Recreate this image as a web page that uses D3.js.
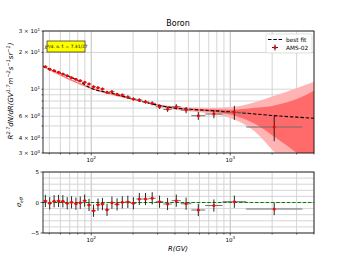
<!DOCTYPE html>
<html>
<head>
<meta charset="utf-8">
<script src="https://cdn.jsdelivr.net/npm/d3@7"></script>
<style>
  body { margin: 0; background: #fff; }
  text { font-family: "DejaVu Sans", sans-serif; }
</style>
</head>
<body>
<svg width="349" height="262"></svg>
<script>
// AMS-02 boron points (rigidity bins, R^2.7 flux, errors)
const binLo = [45.1, 48.5, 52.2, 56.1, 60.3, 64.8, 69.7, 74.9, 80.5, 86.5, 93, 100, 108, 116, 125, 135, 147, 160, 175, 192, 211, 233, 259, 291, 330, 379, 441, 525, 660, 880, 1300]
const binHi = [48.5, 52.2, 56.1, 60.3, 64.8, 69.7, 74.9, 80.5, 86.5, 93, 100, 108, 116, 125, 135, 147, 160, 175, 192, 211, 233, 259, 291, 330, 379, 441, 525, 660, 880, 1300, 3300]
const rig = [46.8, 50.3, 54.1, 58.2, 62.5, 67.2, 72.2, 77.6, 83.4, 89.7, 96.4, 103.9, 111.9, 120.4, 129.9, 140.9, 153.4, 167.3, 183.3, 201, 221.7, 245.6, 274.5, 310, 354, 409, 481, 589, 762, 1070, 2070]
const flux = [15.29, 14.56, 14.18, 13.76, 13.32, 12.9, 12.42, 12.05, 11.74, 11.39, 11.03, 10.48, 10.28, 10.04, 9.43, 9.54, 9.08, 8.96, 8.63, 8.31, 8.15, 7.89, 7.66, 7.18, 6.84, 7.18, 6.75, 6.06, 6.26, 6.46, 4.9]
const fluxErr = [0.3, 0.28, 0.27, 0.26, 0.25, 0.25, 0.25, 0.24, 0.24, 0.24, 0.24, 0.24, 0.24, 0.24, 0.23, 0.24, 0.24, 0.24, 0.24, 0.25, 0.26, 0.27, 0.28, 0.3, 0.32, 0.36, 0.4, 0.45, 0.48, 0.85, 1.15]
const resid = [0.25, -0.13, 0.2, 0.25, 0.2, -0.13, 0.03, -0.2, -0.03, 0.3, -0.4, -1.35, -0.35, -0.25, -1.2, -0.03, -0.3, 0.03, 0.1, -0.13, 0.57, 0.57, 0.69, 0.13, -0.25, 0.3, -0.2, -1.23, -0.5, 0.13, -1.07]
const residErr = [1, 1, 1, 1, 1, 1, 1, 1, 1, 1, 1, 1, 1, 1, 1, 1, 1, 1, 1, 1, 1, 1, 1, 1, 1, 1, 1, 1, 1, 1, 1]

// best fit and its uncertainty bands
const fitR = [45, 60, 80, 100, 150, 200, 300, 400, 500, 700, 1000, 1500, 2000, 3000, 4000]
const fitVal = [15.4, 13.55, 11.8, 10.2, 9.1, 8.3, 7.4, 7.0, 6.85, 6.7, 6.52, 6.27, 6.09, 5.9, 5.78]
const bandR = [45, 100, 200, 400, 700, 1000, 1500, 2000, 3000, 4000]
const darkHi = [15.5, 10.3, 8.38, 7.1, 6.85, 6.8, 7.05, 7.3, 8.3, 9.7]
const darkLo = [15.3, 10.1, 8.22, 6.9, 6.55, 6.2, 5.2, 4.2, 3.0, 2.2]
const lightHi = [15.6, 10.4, 8.45, 7.2, 7.0, 7.1, 7.8, 8.7, 10.2, 11.5]
const lightLo = [15.2, 10.0, 8.15, 6.8, 6.35, 5.8, 4.5, 3.2, 2.0, 1.5]

const yTicks = [3, 4, 6, 10, 20, 30]
const yTickLabels = [['3 × 10', '0'], ['4 × 10', '0'], ['6 × 10', '0'], ['10', '1'], ['2 × 10', '1'], ['3 × 10', '1']]
const rTicks = [-5, 0, 5]

let svg = d3.select('svg')
let L = 43, Rt = 314
let x = d3.scaleLog().domain([45, 4000]).range([L, Rt])
let y = d3.scaleLog().domain([3, 30]).range([153, 31])
let yr = d3.scaleLinear().domain([-5, 5]).range([233, 172])

let defs = svg.append('defs')
defs.append('clipPath').attr('id', 'clipTop').append('rect')
  .attr('x', L).attr('y', 31).attr('width', Rt - L).attr('height', 122)
defs.append('clipPath').attr('id', 'clipBot').append('rect')
  .attr('x', L).attr('y', 172).attr('width', Rt - L).attr('height', 61)

// minor + major x grid values
let xGrid = []
for (let d = 10; d <= 1000; d *= 10) {
  for (let k = 1; k < 10; k++) {
    let v = d * k
    if (v >= 45 && v <= 4000) xGrid.push(v)
  }
}
let yGrid = [3, 4, 5, 6, 7, 8, 9, 10, 20, 30]
let yrGrid = d3.range(-5, 6, 1)

function panel(g, yScale, ys, y0, y1) {
  g.selectAll('.gx').data(xGrid).enter().append('line')
    .attr('x1', d => x(d)).attr('x2', d => x(d))
    .attr('y1', y0).attr('y2', y1)
    .attr('stroke', d => (d === 100 || d === 1000) ? '#b8b8b8' : '#d0d0d0')
    .attr('stroke-width', 0.9)
  g.selectAll('.gy').data(ys).enter().append('line')
    .attr('x1', L).attr('x2', Rt)
    .attr('y1', d => yScale(d)).attr('y2', d => yScale(d))
    .attr('stroke', '#d0d0d0').attr('stroke-width', 0.9)
}

let topG = svg.append('g')
panel(topG, y, yGrid, 31, 153)

// bands
let area = (hi, lo) => d3.area()
  .x((d, i) => x(bandR[i]))
  .y0((d, i) => y(lo[i]))
  .y1((d, i) => y(hi[i]))
  .curve(d3.curveMonotoneX)
let bandG = topG.append('g').attr('clip-path', 'url(#clipTop)')
bandG.append('path').datum(bandR).attr('d', area(lightHi, lightLo)).attr('fill', '#ffb3b3')
bandG.append('path').datum(bandR).attr('d', area(darkHi, darkLo)).attr('fill', '#ff6b6b')

// best fit
let fitLine = d3.line().x((d, i) => x(fitR[i])).y((d, i) => y(fitVal[i])).curve(d3.curveMonotoneX)
topG.append('path').datum(fitR).attr('d', fitLine)
  .attr('fill', 'none').attr('stroke', '#000').attr('stroke-width', 1.1)
  .attr('stroke-dasharray', '3.5,1.8').attr('clip-path', 'url(#clipTop)')

// error bars + points
function errorbars(g, ys, vals, errs, clip) {
  let eg = g.append('g').attr('clip-path', clip)
  eg.selectAll('.xe').data(rig).enter().append('line')
    .attr('x1', (d, i) => x(binLo[i])).attr('x2', (d, i) => x(binHi[i]))
    .attr('y1', (d, i) => ys(vals[i])).attr('y2', (d, i) => ys(vals[i]))
    .attr('stroke', '#6e6e6e').attr('stroke-width', 1)
  eg.selectAll('.ye').data(rig).enter().append('line')
    .attr('x1', d => x(d)).attr('x2', d => x(d))
    .attr('y1', (d, i) => ys(vals[i] - errs[i])).attr('y2', (d, i) => ys(vals[i] + errs[i]))
    .attr('stroke', '#111').attr('stroke-width', 0.9)
  eg.selectAll('.pt').data(rig).enter().append('circle')
    .attr('cx', d => x(d)).attr('cy', (d, i) => ys(vals[i]))
    .attr('r', 1.5).attr('fill', '#ff0000')
}
errorbars(topG, y, flux, fluxErr, 'url(#clipTop)')

topG.append('rect').attr('x', L).attr('y', 31).attr('width', Rt - L).attr('height', 122)
  .attr('fill', 'none').attr('stroke', '#000').attr('stroke-width', 0.8)

// bottom panel
let botG = svg.append('g')
panel(botG, yr, yrGrid, 172, 233)
botG.append('line').attr('x1', L).attr('x2', Rt).attr('y1', yr(0)).attr('y2', yr(0))
  .attr('stroke', '#008000').attr('stroke-width', 1.1).attr('stroke-dasharray', '3.5,1.8')
errorbars(botG, yr, resid, residErr, 'url(#clipBot)')
botG.append('rect').attr('x', L).attr('y', 172).attr('width', Rt - L).attr('height', 61)
  .attr('fill', 'none').attr('stroke', '#000').attr('stroke-width', 0.8)

// ticks
function xTicks(yBase) {
  svg.selectAll(null).data(xGrid).enter().append('line')
    .attr('x1', d => x(d)).attr('x2', d => x(d))
    .attr('y1', yBase).attr('y2', d => yBase + ((d === 100 || d === 1000) ? 2.5 : 1.5))
    .attr('stroke', '#000').attr('stroke-width', 0.6)
  ;[100, 1000].forEach((v, i) => {
    let t = svg.append('text').attr('x', x(v)).attr('y', yBase + 8.5)
      .attr('text-anchor', 'middle').attr('font-size', 5.5)
    t.append('tspan').text('10')
    t.append('tspan').attr('dy', -2.2).attr('font-size', 4).text(i === 0 ? '2' : '3')
  })
}
xTicks(153)
xTicks(233)

svg.selectAll(null).data(yGrid).enter().append('line')
  .attr('x1', L - 1.5).attr('x2', L).attr('y1', d => y(d)).attr('y2', d => y(d))
  .attr('stroke', '#000').attr('stroke-width', 0.6)
yTicks.forEach((v, i) => {
  let t = svg.append('text').attr('x', L - 3).attr('y', y(v) + 2)
    .attr('text-anchor', 'end').attr('font-size', 5.5)
  t.append('tspan').text(yTickLabels[i][0])
  t.append('tspan').attr('dy', -2.2).attr('font-size', 4).text(yTickLabels[i][1])
})
svg.selectAll(null).data(rTicks).enter().append('line')
  .attr('x1', L - 2.5).attr('x2', L).attr('y1', d => yr(d)).attr('y2', d => yr(d))
  .attr('stroke', '#000').attr('stroke-width', 0.6)
svg.selectAll(null).data(rTicks).enter().append('text')
  .attr('x', L - 4).attr('y', d => yr(d) + 2).attr('text-anchor', 'end')
  .attr('font-size', 5.5).text(d => d < 0 ? '\u2212' + Math.abs(d) : d)

// labels
svg.append('text').attr('x', 178).attr('y', 26).attr('text-anchor', 'middle')
  .attr('font-size', 8).text('Boron')

let yl = svg.append('text').attr('transform', 'translate(13,91) rotate(-90)')
  .attr('text-anchor', 'middle').attr('font-size', 7).attr('font-style', 'italic')
yl.append('tspan').text('R')
yl.append('tspan').attr('dy', -2.6).attr('font-size', 5).text('2.7')
yl.append('tspan').attr('dy', 2.6).text('dN/dR(GV')
yl.append('tspan').attr('dy', -2.6).attr('font-size', 5).text('1.7')
yl.append('tspan').attr('dy', 2.6).text('m')
yl.append('tspan').attr('dy', -2.6).attr('font-size', 5).text('\u22122')
yl.append('tspan').attr('dy', 2.6).text('s')
yl.append('tspan').attr('dy', -2.6).attr('font-size', 5).text('\u22121')
yl.append('tspan').attr('dy', 2.6).text('sr')
yl.append('tspan').attr('dy', -2.6).attr('font-size', 5).text('\u22121')
yl.append('tspan').attr('dy', 2.6).text(')')

let sl = svg.append('text').attr('transform', 'translate(21,202) rotate(-90)')
  .attr('text-anchor', 'middle').attr('font-size', 6.5).attr('font-style', 'italic')
sl.append('tspan').text('\u03c3')
sl.append('tspan').attr('dy', 1.6).attr('font-size', 4.5).text('eff')

svg.append('text').attr('x', 178).attr('y', 251).attr('text-anchor', 'middle')
  .attr('font-size', 6.8).attr('font-style', 'italic').text('R(GV)')

// chi2 box
svg.append('rect').attr('x', 47).attr('y', 41).attr('width', 38).attr('height', 11)
  .attr('fill', '#ffff00').attr('stroke', '#000').attr('stroke-width', 0.6)
let ct = svg.append('text').attr('x', 66).attr('y', 48.3).attr('text-anchor', 'middle')
  .attr('font-size', 4.4)
ct.append('tspan').attr('font-style', 'italic').text('\u03c7')
ct.append('tspan').attr('dy', -1.8).attr('font-size', 3.2).text('2')
ct.append('tspan').attr('dy', 1.8).text('/d. o. f. = 7.31/27')

// legend
svg.append('rect').attr('x', 266).attr('y', 34).attr('width', 46).attr('height', 19).attr('rx', 1.5)
  .attr('fill', '#fff').attr('fill-opacity', 0.85).attr('stroke', '#ccc').attr('stroke-width', 0.6)
svg.append('line').attr('x1', 268).attr('x2', 282).attr('y1', 39.5).attr('y2', 39.5)
  .attr('stroke', '#000').attr('stroke-width', 1.1).attr('stroke-dasharray', '3.5,1.8')
svg.append('text').attr('x', 286).attr('y', 41.6).attr('font-size', 5.8).text('best fit')
svg.append('line').attr('x1', 272).attr('x2', 278).attr('y1', 47.5).attr('y2', 47.5)
  .attr('stroke', '#111').attr('stroke-width', 0.9)
svg.append('line').attr('x1', 275).attr('x2', 275).attr('y1', 44.5).attr('y2', 50.5)
  .attr('stroke', '#111').attr('stroke-width', 0.9)
svg.append('circle').attr('cx', 275).attr('cy', 47.5).attr('r', 1.5).attr('fill', '#ff0000')
svg.append('text').attr('x', 286).attr('y', 49.6).attr('font-size', 5.8).text('AMS-02')
</script>
</body>
</html>
